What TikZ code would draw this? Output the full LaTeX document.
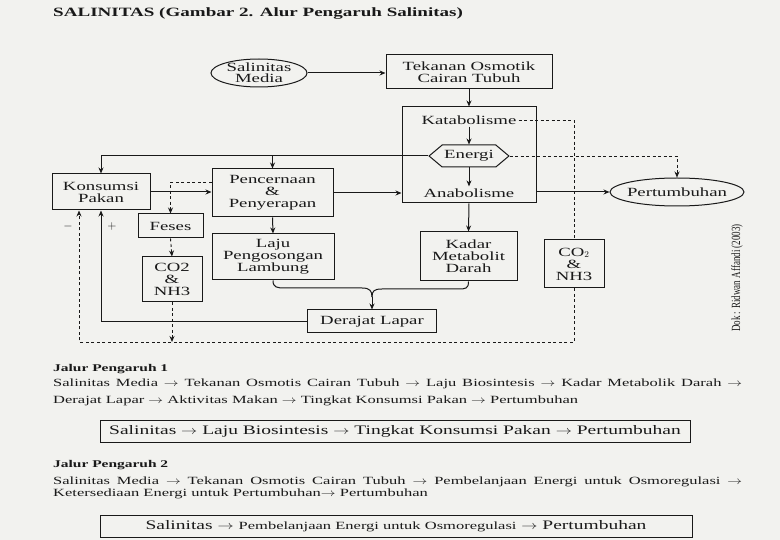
\documentclass[tikz,border=0pt]{standalone}
\usepackage{fontspec}
\usepackage{graphicx}
\setmainfont{Liberation Serif}[FakeStretch=1.5]
\newfontfamily\dokfont{Liberation Serif}[FakeStretch=0.72]
\usepackage{tikz}
\usetikzlibrary{arrows.meta}
\usetikzlibrary{shapes.geometric,shapes.symbols}
\definecolor{kertas}{RGB}{242,242,239}
\definecolor{tinta}{RGB}{25,25,25}
\newcommand{\arah}{\scalebox{1.35}[1]{$\rightarrow$}}
\tikzset{kotak/.style={draw, line width=1pt, align=center, inner sep=2pt,
    font=\fontsize{12.5}{12}\selectfont},
  lonjong/.style={draw, ellipse, line width=1pt, align=center, inner sep=0pt,
    inner xsep=-3pt, inner ysep=-4pt, minimum height=28pt,
    font=\fontsize{12.5}{11}\selectfont},
  segi/.style={draw, line width=1pt, signal, signal to=east and west,
    signal pointer angle=80, minimum height=22pt, inner xsep=2pt, inner ysep=3pt,
    font=\fontsize{12.5}{12}\selectfont},
  isi/.style={inner sep=2pt, font=\fontsize{12.5}{12}\selectfont},
  panah/.style={line width=1pt, -{Stealth[length=6pt,width=5pt]}},
  putus/.style={line width=0.9pt, dash pattern=on 3pt off 2.5pt},
  teks/.style={anchor=base west, inner sep=0pt, font=\fontsize{11}{13}\selectfont},
  jalur/.style={anchor=base west, inner sep=0pt, font=\bfseries\fontsize{10.3}{12}\selectfont},
  ringkas/.style={draw, line width=0.8pt, minimum height=22pt, inner sep=0pt,
    font=\fontsize{13}{14}\selectfont}}

\begin{document}
\begin{tikzpicture}[x=1pt,y=-1pt,color=tinta]
\fill[kertas] (0,0) rectangle (780,540);
\useasboundingbox (0,0) rectangle (780,540);
%\draw[thin, opacity=0.3] (0,0) grid[step=20] (780,540);

% judul
\node[anchor=base west, inner sep=0pt, font=\bfseries\fontsize{12.7}{14}\selectfont] (judul) at (53,17) {SALINITAS (Gambar 2. Alur Pengaruh Salinitas)};

%%% kotak

% atas
\node[lonjong, minimum width=96pt] (salin) at (259,73) {Salinitas\\Media};
\node[kotak, minimum width=166pt, minimum height=34pt] (tekan) at (469,72) {Tekanan Osmotik\\Cairan Tubuh};

% metabolisme
\node[kotak, minimum width=134pt, minimum height=96pt] (metab) at (469,155) {};
\node[isi] (kata) at (469,120) {Katabolisme};
\node[segi] (energi) at (469,156) {Energi};
\node[isi] (ana) at (469,193) {Anabolisme};
\node[lonjong, minimum width=134pt] (tumbuh) at (677,192) {Pertumbuhan};
\node[kotak, minimum width=97pt, minimum height=49pt] (kadar) at (468.5,256.5) {Kadar\\Metabolit\\Darah};
\node[kotak, minimum width=60pt, minimum height=48pt] (co2r) at (574,264) {CO$_2$\\\&\\NH3};

% pencernaan
\node[kotak, minimum width=98pt, minimum height=36pt] (kons) at (101,192) {Konsumsi\\Pakan};
\node[kotak, minimum width=121pt, minimum height=48pt] (penc) at (272.5,193) {Pencernaan\\\&\\Penyerapan};
\node[kotak, minimum width=65pt, minimum height=24pt] (feses) at (170.5,226) {Feses};
\node[kotak, minimum width=60pt, minimum height=45pt] (co2l) at (172,279.5) {CO2\\\&\\NH3};
\node[kotak, minimum width=122pt, minimum height=46pt] (laju) at (273,257) {Laju\\Pengosongan\\Lambung};
\node[kotak, minimum width=129pt, minimum height=23pt] (deraj) at (372,321.5) {Derajat Lapar};

\node[isi] (plus) at (112,227) {$+$};
\node[isi] (minus) at (68,227) {$-$};

%%% panah

\draw[panah] (salin.east) -- (tekan.west |- salin.east);
\draw[panah] (tekan.south) -- (metab.north);
\draw[panah] (kata.south) -- (energi.north);
\draw[panah] (energi.south) -- (ana.north);
\draw[panah] (metab.east |- tumbuh.west) -- (tumbuh.west);
\draw[panah] (metab.south) -- (kadar.north);
\draw[panah] (kons.east) -- (kons.east -| penc.west);
\draw[panah] (penc.east) -- (penc.east -| metab.west);
\draw[panah] (penc.south) -- (laju.north);

% kurung
\coordinate (temu) at (372,297);
\draw[line width=1pt] (laju.south) .. controls +(0,7) and +(-8,0) .. (285,288) -- (362,288) .. controls +(8,0) and +(0,-6) .. (temu);
\draw[line width=1pt] (kadar.south) .. controls +(0,7) and +(8,0) .. (458,289) -- (382,289) .. controls +(-8,0) and +(0,-6) .. (temu);
\draw[panah] (temu) -- (deraj.north);

% umpan balik
\draw[panah] (energi.west) -| (kons.north);
\draw[panah] (energi.west -| penc.north) -- (penc.north);
\draw[panah] (deraj.west) -| (kons.south);
\draw[panah, putus] (energi.east) -| (tumbuh.north);
\draw[putus] (kata.east) -| (co2r.north);
\coordinate (bawah) at (79,342);
\draw[panah, putus] (co2r.south) |- (bawah) -- (bawah |- kons.south);
\draw[panah, putus] (penc.170) -| (feses.north);
\draw[panah, putus] (feses.south) -- (co2l.north);
\draw[panah, putus] (co2l.south) -- (co2l.south |- bawah);

% sumber
\node[rotate=90, inner sep=0pt, font=\dokfont\fontsize{12.5}{14}\selectfont] (dok) at (737,278) {Dok : Ridwan Affandi (2003)};

%%% keterangan

\node[jalur] (jalur1) at (53,372) {Jalur Pengaruh 1};
\node[teks] (j1a) at (53,387) {\makebox[689pt][s]{Salinitas Media \arah{} Tekanan Osmotis Cairan Tubuh \arah{} Laju Biosintesis \arah{} Kadar Metabolik Darah \arah}};
\node[teks] (j1b) at (53,403) {Derajat Lapar \arah{} Aktivitas Makan \arah{} Tingkat Konsumsi Pakan \arah{} Pertumbuhan};
\node[ringkas, minimum width=590pt] (ring1) at (395,431) {Salinitas \arah{} Laju Biosintesis \arah{} Tingkat Konsumsi Pakan \arah{} Pertumbuhan};

\node[jalur] (jalur2) at (53,467) {Jalur Pengaruh 2};
\node[teks] (j2a) at (53,484) {\makebox[689pt][s]{Salinitas Media \arah{} Tekanan Osmotis Cairan Tubuh \arah{} Pembelanjaan Energi untuk Osmoregulasi \arah}};
\node[teks] (j2b) at (53,496) {Ketersediaan Energi untuk Pertumbuhan\arah{} Pertumbuhan};
\node[ringkas, minimum width=592pt] (ring2) at (396,526) {Salinitas \arah{} {\fontsize{11}{12}\selectfont Pembelanjaan Energi untuk Osmoregulasi} \arah{} Pertumbuhan};
\end{tikzpicture}
\end{document}
